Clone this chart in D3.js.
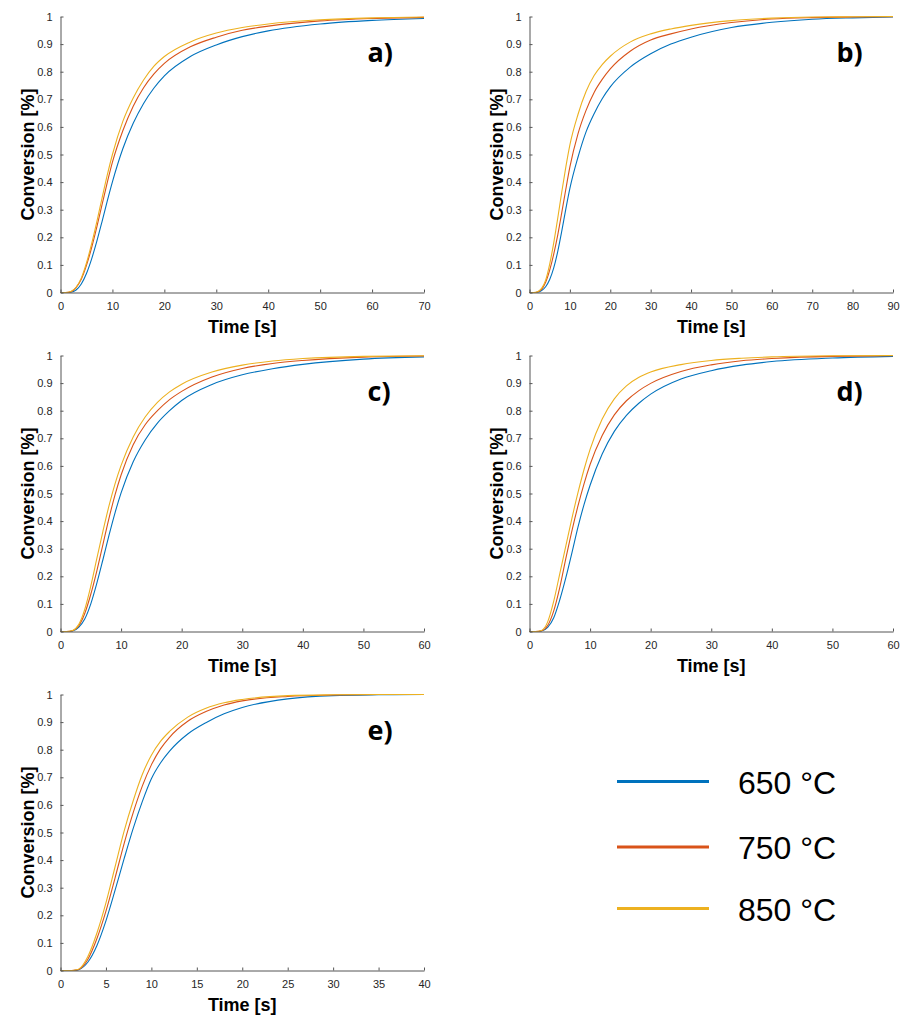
<!DOCTYPE html>
<html>
<head>
<meta charset="utf-8">
<title>Conversion vs time</title>
<script src="https://cdn.jsdelivr.net/npm/d3@7"></script>
<style>
  html, body { margin: 0; padding: 0; background: #ffffff; }
  svg { display: block; }
  .tick-label { font-family: "Liberation Sans", Arial, sans-serif; font-size: 11px; fill: #262626; }
  .axis-title { font-family: "Liberation Sans", Arial, sans-serif; font-size: 18px; font-weight: bold; fill: #000; }
  .panel-tag { font-family: "Open Sans", "Noto Sans", sans-serif; font-size: 27px; font-weight: bold; fill: #000; }
  .legend-text { font-family: "Liberation Sans", Arial, sans-serif; font-size: 32px; fill: #000; }
</style>
</head>
<body>
<svg id="chart" width="904" height="1017"></svg>
<script>
// Series (furnace temperature)
const seriesNames = ["650 °C", "750 °C", "850 °C"];
const seriesColors = ["#0072BD", "#D95319", "#EDB120"];

// Panel tags and axes
const panelTags = ["a)", "b)", "c)", "d)", "e)"];
const xMaxima = [70, 90, 60, 60, 40];
const xTicksA = [0, 10, 20, 30, 40, 50, 60, 70];
const xTicksB = [0, 10, 20, 30, 40, 50, 60, 70, 80, 90];
const xTicksC = [0, 10, 20, 30, 40, 50, 60];
const xTicksD = [0, 10, 20, 30, 40, 50, 60];
const xTicksE = [0, 5, 10, 15, 20, 25, 30, 35, 40];
const yTicks = [0, 0.1, 0.2, 0.3, 0.4, 0.5, 0.6, 0.7, 0.8, 0.9, 1];
const xTitle = "Time [s]";
const yTitle = "Conversion [%]";

// Panel a
const timeA = [0, 1, 2, 3, 4, 5, 6, 7, 8, 9, 10, 12, 14, 16, 18, 20, 25, 30, 35, 40, 50, 60, 70];
const a650 = [0, 0, 0.001, 0.009, 0.031, 0.069, 0.122, 0.186, 0.257, 0.331, 0.401, 0.521, 0.613, 0.685, 0.741, 0.785, 0.855, 0.897, 0.927, 0.948, 0.973, 0.986, 0.993];
const a750 = [0, 0, 0.003, 0.018, 0.048, 0.098, 0.163, 0.238, 0.318, 0.398, 0.472, 0.586, 0.675, 0.742, 0.792, 0.83, 0.89, 0.925, 0.95, 0.965, 0.984, 0.993, 0.997];
const a850 = [0, 0, 0.004, 0.019, 0.052, 0.107, 0.177, 0.257, 0.342, 0.425, 0.50, 0.62, 0.705, 0.77, 0.82, 0.855, 0.908, 0.94, 0.96, 0.973, 0.988, 0.995, 0.998];

// Panel b
const timeB = [0, 1, 2, 3, 4, 5, 6, 7, 8, 9, 10, 12, 14, 16, 18, 20, 25, 30, 35, 40, 50, 60, 70, 80, 90];
const b650 = [0, 0, 0.001, 0.007, 0.021, 0.047, 0.089, 0.149, 0.223, 0.303, 0.377, 0.49, 0.582, 0.648, 0.702, 0.745, 0.8175, 0.865, 0.90, 0.925, 0.96, 0.979, 0.99, 0.995, 0.998];
const b750 = [0, 0, 0.002, 0.011, 0.037, 0.081, 0.139, 0.209, 0.29, 0.375, 0.455, 0.575, 0.66, 0.725, 0.772, 0.81, 0.875, 0.915, 0.937, 0.955, 0.978, 0.991, 0.996, 0.998, 0.999];
const b850 = [0, 0, 0.003, 0.015, 0.045, 0.103, 0.18, 0.27, 0.365, 0.455, 0.535, 0.645, 0.728, 0.786, 0.826, 0.856, 0.908, 0.937, 0.955, 0.968, 0.985, 0.994, 0.998, 0.999, 1];

// Panel c
const timeC = [0, 1, 2, 3, 4, 5, 6, 7, 8, 9, 10, 12, 14, 16, 18, 20, 25, 30, 35, 40, 50, 60];
const c650 = [0, 0, 0.002, 0.015, 0.045, 0.10, 0.175, 0.26, 0.348, 0.43, 0.502, 0.615, 0.695, 0.755, 0.80, 0.837, 0.895, 0.93, 0.952, 0.968, 0.987, 0.995];
const c750 = [0, 0, 0.003, 0.02, 0.065, 0.135, 0.22, 0.315, 0.41, 0.495, 0.567, 0.677, 0.75, 0.80, 0.84, 0.87, 0.922, 0.953, 0.971, 0.982, 0.994, 0.998];
const c850 = [0, 0, 0.004, 0.025, 0.08, 0.165, 0.265, 0.363, 0.455, 0.535, 0.602, 0.705, 0.778, 0.83, 0.868, 0.896, 0.94, 0.965, 0.98, 0.989, 0.997, 0.999];

// Panel d
const timeD = [0, 1, 2, 3, 4, 5, 6, 7, 8, 9, 10, 12, 14, 16, 18, 20, 25, 30, 35, 40, 50, 60];
const d650 = [0, 0, 0.002, 0.015, 0.05, 0.115, 0.195, 0.285, 0.378, 0.46, 0.53, 0.643, 0.725, 0.783, 0.826, 0.86, 0.915, 0.945, 0.965, 0.978, 0.991, 0.997];
const d750 = [0, 0, 0.003, 0.022, 0.075, 0.16, 0.265, 0.365, 0.455, 0.535, 0.605, 0.71, 0.785, 0.836, 0.872, 0.899, 0.942, 0.966, 0.981, 0.989, 0.997, 0.999];
const d850 = [0, 0, 0.004, 0.035, 0.11, 0.21, 0.31, 0.41, 0.503, 0.587, 0.66, 0.77, 0.843, 0.89, 0.92, 0.94, 0.967, 0.982, 0.99, 0.995, 0.999, 1];

// Panel e
const timeE = [0, 1, 1.5, 2, 3, 4, 5, 6, 7, 8, 9, 10, 11, 12, 14, 16, 18, 20, 25, 30, 35, 40];
const e650 = [0, 0, 0, 0.003, 0.03, 0.09, 0.18, 0.29, 0.405, 0.515, 0.612, 0.695, 0.752, 0.795, 0.857, 0.898, 0.93, 0.953, 0.984, 0.996, 0.999, 1];
const e750 = [0, 0, 0.001, 0.004, 0.04, 0.115, 0.215, 0.335, 0.46, 0.572, 0.668, 0.745, 0.803, 0.845, 0.903, 0.938, 0.962, 0.977, 0.993, 0.998, 1, 1];
const e850 = [0, 0, 0.001, 0.005, 0.05, 0.135, 0.245, 0.375, 0.505, 0.615, 0.71, 0.78, 0.83, 0.866, 0.918, 0.95, 0.97, 0.982, 0.996, 0.999, 1, 1];

const panelData = [
  { time: timeA, values: [a650, a750, a850], xTicks: xTicksA },
  { time: timeB, values: [b650, b750, b850], xTicks: xTicksB },
  { time: timeC, values: [c650, c750, c850], xTicks: xTicksC },
  { time: timeD, values: [d650, d750, d850], xTicks: xTicksD },
  { time: timeE, values: [e650, e750, e850], xTicks: xTicksE }
];

// Grid of plot boxes: two columns, three rows
const colX = [[60.5, 424], [529.5, 893]];
const rowY = [[16.5, 292.5], [355.5, 631.5], [694.5, 970.5]];
const boxes = [
  { x: colX[0], y: rowY[0] },
  { x: colX[1], y: rowY[0] },
  { x: colX[0], y: rowY[1] },
  { x: colX[1], y: rowY[1] },
  { x: colX[0], y: rowY[2] }
];

const svg = d3.select("#chart");
const axisColor = "#555555";
const yFmt = d => (d === 0 || d === 1) ? String(d) : d3.format(".1f")(d);

panelData.forEach((p, i) => {
  const box = boxes[i];
  const x = d3.scaleLinear().domain([0, xMaxima[i]]).range(box.x);
  const y = d3.scaleLinear().domain([0, 1]).range([box.y[1], box.y[0]]);
  const g = svg.append("g");

  // curves
  const line = d3.line()
    .x((d, k) => x(p.time[k]))
    .y(d => y(d))
    .curve(d3.curveMonotoneX);
  p.values.forEach((vals, s) => {
    g.append("path")
      .datum(vals)
      .attr("d", line)
      .attr("fill", "none")
      .attr("stroke", seriesColors[s])
      .attr("stroke-width", 1.1);
  });

  // x axis with inward ticks
  const xAxis = d3.axisBottom(x).tickValues(p.xTicks).tickSizeInner(-3).tickSizeOuter(0).tickPadding(10).tickFormat(d3.format("d"));
  const gx = g.append("g").attr("transform", `translate(0,${box.y[1]})`).call(xAxis);
  gx.select(".domain").attr("stroke", axisColor);
  gx.selectAll(".tick line").attr("stroke", axisColor);
  gx.selectAll(".tick text").attr("class", "tick-label").attr("fill", null);

  // y axis with inward ticks
  const yAxis = d3.axisLeft(y).tickValues(yTicks).tickSizeInner(-3).tickSizeOuter(0).tickPadding(8).tickFormat(yFmt);
  const gy = g.append("g").attr("transform", `translate(${box.x[0]},0)`).call(yAxis);
  gy.select(".domain").attr("stroke", axisColor);
  gy.selectAll(".tick line").attr("stroke", axisColor);
  gy.selectAll(".tick text").attr("class", "tick-label").attr("fill", null);

  // axis titles
  g.append("text")
    .attr("class", "axis-title")
    .attr("x", (box.x[0] + box.x[1]) / 2)
    .attr("y", box.y[1] + 40)
    .attr("text-anchor", "middle")
    .text(xTitle);
  g.append("text")
    .attr("class", "axis-title")
    .attr("transform", `translate(${box.x[0] - 27},${(box.y[0] + box.y[1]) / 2}) rotate(-90)`)
    .attr("text-anchor", "middle")
    .text(yTitle);

  // panel tag
  g.append("text")
    .attr("class", "panel-tag")
    .attr("x", box.x[0] + 307)
    .attr("y", box.y[0] + 45)
    .text(panelTags[i]);
});

// Legend in the empty lower-right cell
const legend = svg.append("g");
const legendRows = [781.5, 847, 908.5];
seriesNames.forEach((name, s) => {
  legend.append("line")
    .attr("x1", 617).attr("x2", 709)
    .attr("y1", legendRows[s]).attr("y2", legendRows[s])
    .attr("stroke", seriesColors[s])
    .attr("stroke-width", 3);
  legend.append("text")
    .attr("class", "legend-text")
    .attr("x", 738)
    .attr("y", legendRows[s] + 12)
    .text(name);
});
</script>
</body>
</html>
